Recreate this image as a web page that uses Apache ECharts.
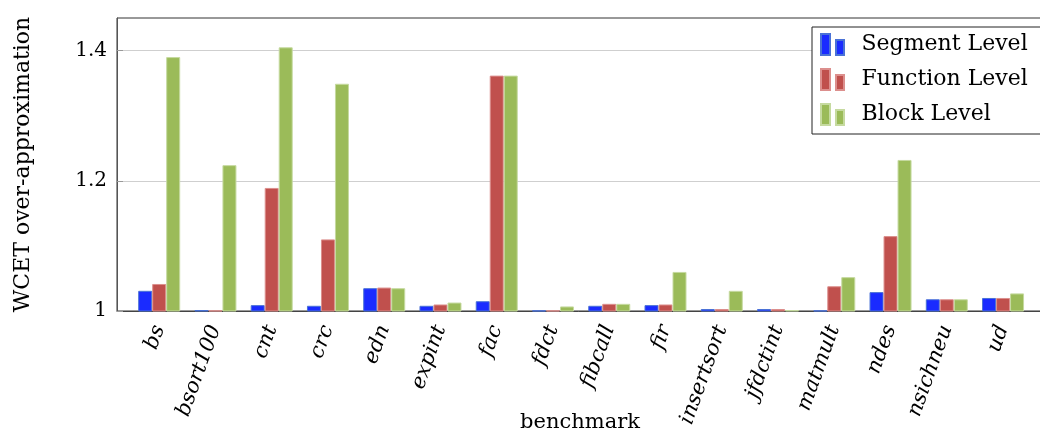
<!DOCTYPE html>
<html>
<head>
<meta charset="utf-8">
<script src="https://cdn.jsdelivr.net/npm/echarts@6/dist/echarts.min.js"></script>
<style>
html,body{margin:0;padding:0;background:#fff;}
#chart{width:1040px;height:436px;}
</style>
</head>
<body>
<div id="chart"></div>
<script>
const categories = ['bs','bsort100','cnt','crc','edn','expint','fac','fdct','fibcall','fir','insertsort','jfdctint','matmult','ndes','nsichneu','ud'];
const segmentLevel  = [1.031, 1.0015, 1.009, 1.008, 1.035, 1.008, 1.015, 1.001, 1.008, 1.009, 1.003, 1.003, 1.001, 1.029, 1.018, 1.020];
const functionLevel = [1.0415, 1.001, 1.189, 1.110, 1.036, 1.010, 1.3615, 1.001, 1.011, 1.010, 1.003, 1.003, 1.038, 1.115, 1.018, 1.020];
const blockLevel    = [1.390, 1.224, 1.405, 1.349, 1.035, 1.013, 1.3615, 1.007, 1.011, 1.060, 1.031, 1.0015, 1.052, 1.232, 1.018, 1.027];
const seriesNames = ['Segment Level','Function Level','Block Level'];
const yTicks = [1, 1.2, 1.4];

const FONT = 'DejaVu Serif';
const chart = echarts.init(document.getElementById('chart'), null, {renderer:'canvas'});
const toPts = arr => arr.map((v,i)=>[i,v]);
const icon = 'path://M0,0h9v21h-9z M15,6h8v15h-8z';
function mk(name, data, fill, border){
  return {
    name, type:'bar', data: toPts(data), barWidth:14, barGap:'0%',
    itemStyle:{color:fill, borderColor:border, borderWidth:1}
  };
}
chart.setOption({
  animation:false,
  grid:{left:117, right:-3, top:18, bottom:125, outerBoundsMode:'none', containLabel:false,
        show:true, borderColor:'#333', borderWidth:1, backgroundColor:'transparent'},
  legend:{
    orient:'vertical', left:812, top:27, icon:icon, itemWidth:24, itemHeight:21, itemGap:12,
    padding:[6,250,8,8], borderColor:'#222', borderWidth:1, backgroundColor:'#fff',
    textStyle:{fontFamily:FONT, fontSize:22, color:'#000', padding:[0,0,0,12]},
    data: seriesNames
  },
  xAxis:{
    type:'value', min:-0.75, max:15.71,
    name:'benchmark', nameLocation:'middle', nameGap:101, nameMoveOverlap:false,
    nameTextStyle:{fontFamily:FONT, fontSize:21, color:'#000'},
    axisLine:{show:true, onZero:false, lineStyle:{color:'#444', width:1}},
    axisTick:{show:false},
    splitLine:{show:false},
    axisLabel:{
      customValues: categories.map((c,i)=>i),
      formatter: v => categories[Math.round(v)] || '',
      rotate:70, margin:15, fontFamily:FONT, fontStyle:'italic', fontSize:21, color:'#000'
    }
  },
  yAxis:{
    type:'value', min:1, max:1.45, interval:0.2,
    name:'WCET over-approximation', nameLocation:'middle', nameGap:83, nameMoveOverlap:false,
    nameTextStyle:{fontFamily:FONT, fontSize:22, color:'#000'},
    axisLine:{show:true, onZero:false, lineStyle:{color:'#555'}},
    axisTick:{show:true, inside:true, length:6, customValues:yTicks, lineStyle:{color:'#999'}},
    axisLabel:{customValues:yTicks, margin:10, fontFamily:FONT, fontSize:20, color:'#000'},
    splitLine:{show:true, lineStyle:{color:'#cfcfcf', width:1}}
  },
  series:[
    mk(seriesNames[0], segmentLevel, '#1a2bff', '#4a72d6'),
    mk(seriesNames[1], functionLevel, '#c0504d', '#dc8f8d'),
    mk(seriesNames[2], blockLevel, '#9bbb59', '#c6daa0')
  ]
});
</script>
</body>
</html>
